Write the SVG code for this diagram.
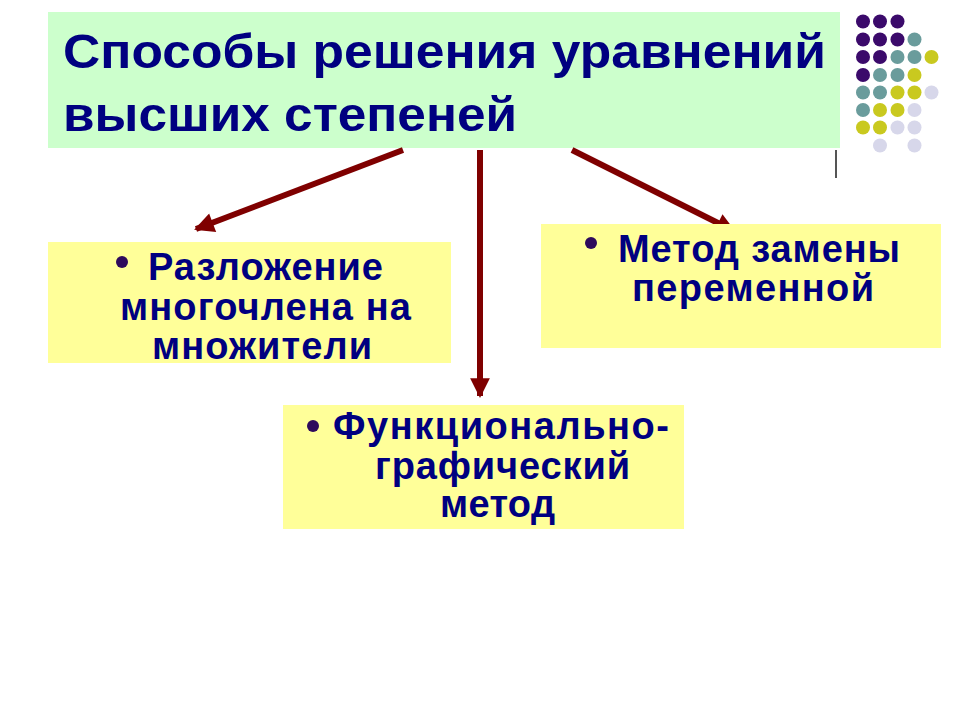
<svg xmlns="http://www.w3.org/2000/svg" width="960" height="720" viewBox="0 0 960 720">
<defs>
<style>
.t{font-family:"Liberation Sans",Arial,sans-serif;font-weight:bold;fill:#000080}
.title{font-size:48px}
.item{font-size:38px}
.green{fill:#ccffcc}
.yel{fill:#ffff99}
.bul{fill:#2e0a5c}
.conn{stroke:#7f0000;stroke-width:6;fill:none}
.p{fill:#3b0a6b}.c{fill:#6a9c9c}.y{fill:#c9c91f}.l{fill:#d7d7ea}
</style>
<marker id="ah" viewBox="0 0 10 10" refX="9" refY="5" markerWidth="3.5" markerHeight="3.3" markerUnits="strokeWidth" orient="auto">
<path d="M0,0 L10,5 L0,10 Z" fill="#7f0000"/>
</marker>
</defs>
<rect width="960" height="720" fill="#ffffff"/>
<g id="decor">
<line x1="836" y1="150" x2="836" y2="178" stroke="#555555" stroke-width="2"/>
<circle class="p" cx="863" cy="21.5" r="7"/><circle class="p" cx="880" cy="21.5" r="7"/><circle class="p" cx="897.5" cy="21.5" r="7"/>
<circle class="p" cx="863" cy="39.5" r="7"/><circle class="p" cx="880" cy="39.5" r="7"/><circle class="p" cx="897.5" cy="39.5" r="7"/><circle class="c" cx="914.5" cy="39.5" r="7"/>
<circle class="p" cx="863" cy="57" r="7"/><circle class="p" cx="880" cy="57" r="7"/><circle class="c" cx="897.5" cy="57" r="7"/><circle class="c" cx="914.5" cy="57" r="7"/><circle class="y" cx="931.5" cy="57" r="7"/>
<circle class="p" cx="863" cy="75" r="7"/><circle class="c" cx="880" cy="75" r="7"/><circle class="c" cx="897.5" cy="75" r="7"/><circle class="y" cx="914.5" cy="75" r="7"/>
<circle class="c" cx="863" cy="92.5" r="7"/><circle class="c" cx="880" cy="92.5" r="7"/><circle class="y" cx="897.5" cy="92.5" r="7"/><circle class="y" cx="914.5" cy="92.5" r="7"/><circle class="l" cx="931.5" cy="92.5" r="7"/>
<circle class="c" cx="863" cy="110" r="7"/><circle class="y" cx="880" cy="110" r="7"/><circle class="y" cx="897.5" cy="110" r="7"/><circle class="l" cx="914.5" cy="110" r="7"/>
<circle class="y" cx="863" cy="127.5" r="7"/><circle class="y" cx="880" cy="127.5" r="7"/><circle class="l" cx="897.5" cy="127.5" r="7"/><circle class="l" cx="914.5" cy="127.5" r="7"/>
<circle class="l" cx="880" cy="145.5" r="7"/><circle class="l" cx="914.5" cy="145.5" r="7"/>
</g>
<g id="title">
<rect class="green" x="48" y="12" width="792" height="136"/>
<text class="t title" x="63" y="68" textLength="763" lengthAdjust="spacingAndGlyphs">Способы решения уравнений</text>
<text class="t title" x="63" y="131" textLength="454" lengthAdjust="spacingAndGlyphs">высших степеней</text>
</g>
<g id="connectors">
<line class="conn" x1="403" y1="150" x2="196" y2="229" marker-end="url(#ah)"/>
<line class="conn" x1="480" y1="150" x2="480" y2="396" marker-end="url(#ah)"/>
<line class="conn" x1="572" y1="150" x2="734" y2="231" marker-end="url(#ah)"/>
</g>
<g id="node-factor">
<rect class="yel" x="48" y="242" width="403" height="121"/>
<circle class="bul" cx="122" cy="262" r="6"/>
<text class="t item" x="148" y="280" textLength="235">Разложение</text>
<text class="t item" x="120" y="320" textLength="291">многочлена на</text>
<text class="t item" x="152" y="359" textLength="220">множители</text>
</g>
<g id="node-subst">
<rect class="yel" x="541" y="224" width="400" height="124"/>
<circle class="bul" cx="591" cy="243" r="6"/>
<text class="t item" x="618" y="262" textLength="282">Метод замены</text>
<text class="t item" x="632" y="301" textLength="242">переменной</text>
</g>
<g id="node-graph">
<rect class="yel" x="283" y="405" width="401" height="124"/>
<circle class="bul" cx="313" cy="426" r="6"/>
<text class="t item" x="333" y="439" textLength="336">Функционально-</text>
<text class="t item" x="375" y="479" textLength="255">графический</text>
<text class="t item" x="440" y="517" textLength="115">метод</text>
</g>
</svg>
